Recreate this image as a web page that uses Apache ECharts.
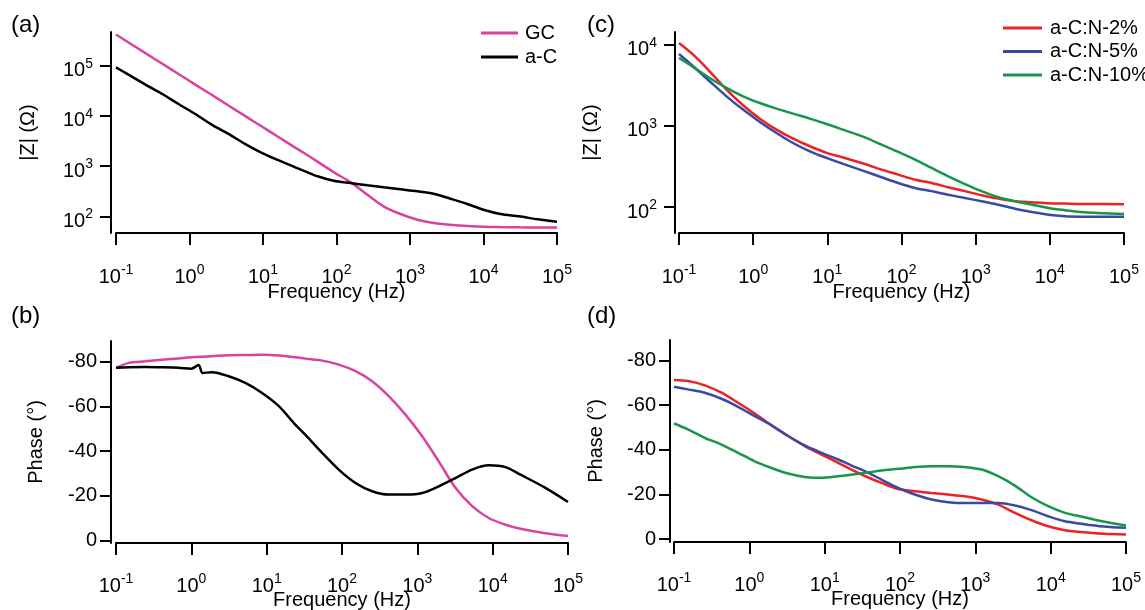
<!DOCTYPE html>
<html>
<head>
<meta charset="utf-8">
<script src="https://cdn.jsdelivr.net/npm/echarts@6/dist/echarts.min.js"></script>
<style>html,body{margin:0;padding:0;background:#fff;}#c{width:1145px;height:610px;}</style>
</head>
<body>
<div id="c"></div>
<script>
// ---- Data ----
const FREQ_A = [0.1,0.148,0.251,0.427,0.708,1.2,2.0,3.39,5.75,9.77,16.2,27.5,39,55,91.2,155,263,437,741,1259,2089,3548,6026,10000,16982,30200,55000,100000];
const Z_GC = [417000,290400,178200,109100,68400,41980,26300,16110,9890,6070,3790,2330,1698,1230,760,479,269,158,111,85.7,73.6,68.1,64.1,62.1,61.1,60.3,59.8,59.6];
const Z_AC = [92900,66200,41900,27300,17260,10900,6680,4370,2750,1820,1310,946,765,627,512,460,415,378,345,315,282,224,176,135,111,100,87,77.6];

const FREQ_B = [0.1,0.148,0.245,0.407,0.676,1.12,1.88,3.13,5.21,8.69,14.5,24.0,32.7,54.5,90.4,151,251,417,695,1159,1923,3206,5346,8872,14791,23442,50119,100000];
const PH_GC = [-77.3,-79.5,-80.2,-80.9,-81.5,-82.1,-82.5,-82.9,-83.0,-83.1,-82.8,-82.0,-81.4,-80.5,-78.7,-75.8,-71.3,-64.6,-56.3,-46.6,-35.4,-23.5,-15.3,-10.0,-7.0,-5.2,-3.2,-1.9];
const FREQ_B_AC = [0.1,0.148,0.245,0.407,0.676,1.0,1.25,1.41,1.88,3.13,5.21,8.69,14.5,24.0,32.7,54.5,90.4,151,251,417,695,1159,1923,3206,5346,8872,14791,23442,50119,100000];
const PH_AC = [-77.3,-77.5,-77.6,-77.5,-77.3,-76.9,-78.5,-75.0,-75.3,-73.5,-70.5,-66.0,-60.1,-51.8,-47.2,-39.2,-31.7,-25.7,-22.0,-20.5,-20.5,-21.2,-24.2,-27.9,-31.7,-33.6,-32.8,-29.4,-23.5,-17.2];

const FREQ_C = [0.1,0.155,0.259,0.437,0.731,1.23,2.06,3.45,5.81,9.75,16.3,32.1,53.8,90.2,152,255,427,718,1202,2018,3388,5702,9550,16032,25704,100000];
const Z_N2 = [10470,7530,4700,2790,1795,1227,897,695,561,465,408,339,289,251,217,198,175,157,140,127,118,114.6,111.4,110.2,109.1,108.4];
const Z_N5 = [7670,5420,3540,2310,1585,1117,818,615,486,403,340,275,233,198,172,157,142,129,118,107,95.5,87.1,80.5,77.1,76.2,75.9];
const Z_N10 = [6850,5320,3890,2930,2310,1914,1629,1413,1227,1054,897,723,586,478,384,303,239,192,157,132,118,107,97.5,91.4,87.1,82.2];

const FREQ_D = [0.1,0.153,0.256,0.427,0.708,1.18,1.97,3.27,5.44,9.08,15.1,22.4,34.1,56.8,94.4,157,262,436,724,1208,2009,3350,5572,9268,15488,24434,50119,100000];
const PH_N2 = [-71.2,-70.7,-68.8,-65.5,-61.0,-56.2,-50.9,-46.1,-41.6,-37.8,-34.1,-31.2,-28.2,-25.1,-22.4,-21.4,-20.6,-19.9,-19.1,-17.7,-15.4,-11.7,-8.4,-5.7,-3.9,-3.1,-2.3,-2.0];
const PH_N5 = [-68.2,-67.0,-65.5,-62.8,-59.2,-55.0,-50.9,-46.1,-41.9,-38.6,-35.6,-33.0,-30.4,-26.6,-22.9,-19.9,-17.7,-16.5,-16.1,-16.1,-16.1,-15.0,-12.9,-10.2,-7.9,-6.9,-5.6,-5.0];
const PH_N10 = [-51.7,-49.1,-45.3,-42.3,-38.6,-34.8,-31.8,-29.3,-27.8,-27.4,-28.1,-28.8,-29.6,-30.7,-31.4,-32.2,-32.6,-32.6,-32.2,-31.1,-28.1,-23.9,-18.7,-14.7,-11.7,-10.2,-7.8,-6.0];

const Z_TICKS_A = [100,1000,10000,100000];
const Z_TICKS_C = [100,1000,10000];
const PH_TICKS = [-80,-60,-40,-20,0];

const COLORS = {'GC':'#d8439f','a-C':'#000000','a-C:N-2%':'#ec2227','a-C:N-5%':'#3a4aa3','a-C:N-10%':'#17964a'};

// ---- Helpers ----
const FONT = "'Liberation Sans', Arial, sans-serif";
const pairs = (xs, ys) => xs.map((x, i) => [x, ys[i]]);
const pow10 = v => { const e = Math.round(Math.log10(v)); return '{b|10}{s|' + e + '}'; };
const rich = {
  b: {fontSize: 20, fontFamily: FONT, color: '#000', lineHeight: 24, verticalAlign: 'bottom'},
  s: {fontSize: 14, fontFamily: FONT, color: '#000', lineHeight: 24, verticalAlign: 'top'}
};
const axisLine = {show: true, onZero: false, lineStyle: {color: '#000', width: 2}};

function xAxis(gi, nameGap, margin) {
  return {
    type: 'log', logBase: 10, gridIndex: gi, min: 0.1, max: 100000,
    axisLine: axisLine,
    axisTick: {show: true, length: 12, lineStyle: {color: '#000', width: 2}},
    axisLabel: {formatter: pow10, rich: rich, margin: margin},
    splitLine: {show: false}, minorTick: {show: false},
    name: 'Frequency (Hz)', nameLocation: 'middle', nameGap: nameGap, nameMoveOverlap: false,
    nameTextStyle: {fontSize: 20, fontFamily: FONT, color: '#000'}
  };
}
function yLog(gi, min, max, ticks, offset, nameGap) {
  return {
    type: 'log', logBase: 10, gridIndex: gi, min: min, max: max, offset: offset,
    axisLine: axisLine,
    axisTick: {show: true, length: 11, lineStyle: {color: '#000', width: 2}, customValues: ticks},
    axisLabel: {formatter: pow10, rich: rich, margin: 18, padding: [6, 0, 0, 0], customValues: ticks},
    splitLine: {show: false}, minorTick: {show: false},
    name: '|Z| (\u03A9)', nameLocation: 'middle', nameGap: nameGap,
    nameTextStyle: {fontSize: 20, fontFamily: FONT, color: '#000'}
  };
}
function yPhase(gi, min, max, offset, nameGap) {
  return {
    type: 'value', gridIndex: gi, min: min, max: max, inverse: true, offset: offset,
    axisLine: axisLine,
    axisTick: {show: true, length: 11, lineStyle: {color: '#000', width: 2}, customValues: PH_TICKS},
    axisLabel: {fontSize: 20, fontFamily: FONT, color: '#000', margin: 14, customValues: PH_TICKS},
    splitLine: {show: false},
    name: 'Phase (\u00B0)', nameLocation: 'middle', nameGap: nameGap,
    nameTextStyle: {fontSize: 20, fontFamily: FONT, color: '#000'}
  };
}
function line(name, idx, data) {
  return {
    name: name, type: 'line', xAxisIndex: idx, yAxisIndex: idx, data: data,
    showSymbol: false, smooth: 0.3, animation: false,
    lineStyle: {color: COLORS[name], width: 2.5}, itemStyle: {color: COLORS[name]}
  };
}
const label = (t, l, tp) => ({text: t, left: l, top: tp, textStyle: {fontSize: 24, fontWeight: 'normal', fontFamily: FONT, color: '#000'}});
const grid = (l, t, w, h) => ({left: l, top: t, width: w, height: h, containLabel: false, outerBoundsMode: 'none'});

const option = {
  backgroundColor: '#fff',
  animation: false,
  title: [label('(a)', 6, 8), label('(b)', 6, 299), label('(c)', 582, 8), label('(d)', 582, 299)],
  legend: [
    {data: ['GC','a-C'], orient: 'vertical', left: 476, top: 18, itemWidth: 37, itemHeight: 3, itemGap: 4,
     icon: 'rect', selectedMode: false,
     textStyle: {fontSize: 20, fontFamily: FONT, color: '#000', padding: [0,0,0,2]}},
    {data: ['a-C:N-2%','a-C:N-5%','a-C:N-10%'], orient: 'vertical', left: 998, top: 13, itemWidth: 39, itemHeight: 3, itemGap: 3.5,
     icon: 'rect', selectedMode: false,
     textStyle: {fontSize: 20, fontFamily: FONT, color: '#000', padding: [0,0,0,3]}}
  ],
  grid: [
    grid(116, 32, 441, 201),
    grid(116, 341, 452, 202),
    grid(679, 32, 445, 201),
    grid(674, 340, 452, 202)
  ],
  xAxis: [xAxis(0, 49, 30), xAxis(1, 47, 29), xAxis(2, 49, 30), xAxis(3, 47, 29)],
  yAxis: [
    yLog(0, 46.5, 469000, Z_TICKS_A, 5, 73),
    yPhase(1, -89.3, 1.2, 5, 65),
    yLog(2, 47.9, 14320, Z_TICKS_C, 4, 74),
    yPhase(3, -89.1, 1.35, 4, 64)
  ],
  series: [
    line('GC', 0, pairs(FREQ_A, Z_GC)),
    line('a-C', 0, pairs(FREQ_A, Z_AC)),
    line('GC', 1, pairs(FREQ_B, PH_GC)),
    line('a-C', 1, pairs(FREQ_B_AC, PH_AC)),
    line('a-C:N-2%', 2, pairs(FREQ_C, Z_N2)),
    line('a-C:N-5%', 2, pairs(FREQ_C, Z_N5)),
    line('a-C:N-10%', 2, pairs(FREQ_C, Z_N10)),
    line('a-C:N-2%', 3, pairs(FREQ_D, PH_N2)),
    line('a-C:N-5%', 3, pairs(FREQ_D, PH_N5)),
    line('a-C:N-10%', 3, pairs(FREQ_D, PH_N10))
  ]
};
const chart = echarts.init(document.getElementById('c'), null, {renderer: 'canvas'});
chart.setOption(option);
</script>
</body>
</html>
